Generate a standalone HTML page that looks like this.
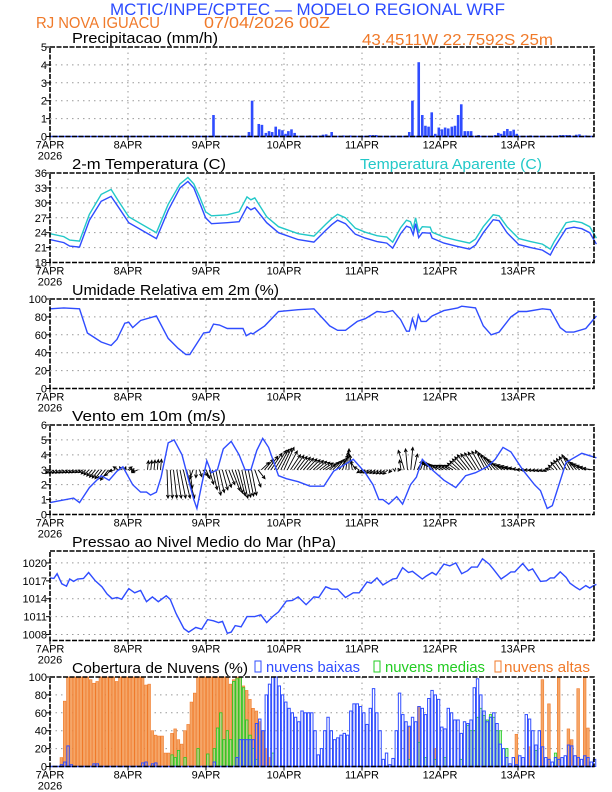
<!DOCTYPE html>
<html><head><meta charset="utf-8"><style>
html,body{margin:0;padding:0;background:#fff;}
svg{display:block;font-family:"Liberation Sans",sans-serif;}
</style></head><body>
<svg id="s" width="612" height="792" viewBox="0 0 612 792" xmlns="http://www.w3.org/2000/svg">
<text x="110" y="15" font-size="17" fill="#2b4bff" textLength="395" lengthAdjust="spacingAndGlyphs">MCTIC/INPE/CPTEC — MODELO REGIONAL WRF</text>
<text x="36" y="28" font-size="16" fill="#f07a2a" textLength="124" lengthAdjust="spacingAndGlyphs">RJ NOVA IGUACU</text>
<text x="204" y="28" font-size="16" fill="#f07a2a" textLength="126" lengthAdjust="spacingAndGlyphs">07/04/2026 00Z</text>
<text x="362" y="45" font-size="16" fill="#f07a2a" textLength="191" lengthAdjust="spacingAndGlyphs">43.4511W 22.7592S 25m</text>
</svg>
<script>
const S=document.getElementById('s');const NS='http://www.w3.org/2000/svg';
function el(t,a,txt){const e=document.createElementNS(NS,t);for(const k in a)e.setAttribute(k,a[k]);if(txt!==undefined)e.textContent=txt;S.appendChild(e);return e;}
const L=50,R=594,H=89.5,TOPS=[47,173,299,425,551,677];
const X=h=>L+h*3.25;
const BLUE='#2f4cff',CY='#22c8c8',OR='#f07a2a',GR='#22cc22';
function zx(z){return (z-130)/8.25;}
function panel(i,min,max,ticks,title,tw,labFn){
 const t=TOPS[i],b=t+H;const Y=v=>b-(v-min)/(max-min)*H;
 for(const v of ticks){ if(v>min&&v<max) el('line',{x1:L,x2:R,y1:Y(v),y2:Y(v),stroke:'#999','stroke-dasharray':'1.5,4','stroke-width':1});
  el('line',{x1:L-4,x2:L,y1:Y(v),y2:Y(v),stroke:'#000'});
  el('text',{x:L-3,y:Y(v)+4,'text-anchor':'end','font-size':11},labFn?labFn(v):v);}
 const days=['7APR','8APR','9APR','10APR','11APR','12APR','13APR'];
 for(let d=0;d<7;d++){const x=X(d*24);
  if(d>0) el('line',{x1:x,x2:x,y1:t,y2:b,stroke:'#999','stroke-dasharray':'1.5,4'});
  el('line',{x1:x,x2:x,y1:b,y2:b+4,stroke:'#000'});
  el('text',{x:x,y:b+12,'text-anchor':'middle','font-size':11},days[d]);}
 el('text',{x:L,y:b+23,'text-anchor':'middle','font-size':11},'2026');
 el('text',{x:72,y:t-4,'font-size':15,textLength:tw,lengthAdjust:'spacingAndGlyphs'},title);
 return Y;}
function frame(i){const t=TOPS[i];el('rect',{x:L,y:t,width:R-L,height:H,fill:'none',stroke:'#000','stroke-width':1.6,'stroke-dasharray':'5,1.5'});}
function line(Y,pts,col,w){el('polyline',{points:pts.map(p=>X(zx(p[0])).toFixed(1)+','+Y(p[1]).toFixed(1)).join(' '),fill:'none',stroke:col,'stroke-width':w||1.4});}
// Precip
let Y=panel(0,0,5,[0,1,2,3,4,5],'Precipitacao (mm/h)',146);
const pr=[[545,1.2],[635,.25],[643,2],[660,.7],[668,.65],[678,.2],[686,.3],[694,.25],[703,.55],[712,.4],[720,.35],[728,.15],[735,.3],[743,.4],[751,.2],[790,.06],[815,.05],[823,.1],[831,.12],[845,.25],[875,.06],[892,.06],[942,.08],[950,.08],[958,.08],[1035,.05],[1042,.25],[1050,2],[1066,4.15],[1075,1.2],[1083,.6],[1091,.55],[1099,1.35],[1108,.15],[1117,.5],[1125,.4],[1133,.5],[1141,.45],[1150,.55],[1158,.6],[1166,1.2],[1174,1.8],[1183,.3],[1191,.3],[1199,.3],[1218,.08],[1260,.08],[1268,.2],[1275,.15],[1283,.3],[1291,.42],[1299,.3],[1307,.38],[1315,.15],[1350,.06],[1425,.08],[1433,.08],[1441,.08],[1449,.08],[1466,.1],[1474,.12],[1490,.06]];
for(const p of pr){const x=X(zx(p[0]));el('rect',{x:x-1.3,y:Y(p[1]),width:2.6,height:Y(0)-Y(p[1]),fill:BLUE});}
el('line',{x1:L,x2:R,y1:Y(0),y2:Y(0),stroke:BLUE,'stroke-width':1.5});
frame(0);
// Temp
Y=panel(1,18,36,[18,21,24,27,30,33,36],'2-m Temperatura (C)',154);
el('text',{x:360,y:169,'font-size':15,fill:CY,textLength:182,lengthAdjust:'spacingAndGlyphs'},'Temperatura Aparente (C)');
const tb=[[130,22.6],[165,22],[180,21.3],[205,21.1],[230,26.5],[260,30.3],[285,31.3],[305,29],[330,26],[400,22.8],[430,28.5],[460,33],[480,34.3],[495,33],[510,30],[525,27],[540,25.8],[580,26],[610,26.2],[630,29.2],[640,28.6],[650,29],[680,26],[710,24],[760,22.6],[800,22.1],[830,24.5],[845,25.6],[860,26.5],[880,25.8],[905,23.7],[930,22.9],[960,22.2],[985,21.9],[1000,20.9],[1020,23.8],[1035,25.3],[1045,25],[1052,23.6],[1058,25.8],[1066,23],[1075,24],[1095,23.9],[1100,22.9],[1130,21.9],[1160,21.3],[1195,20.7],[1210,21.5],[1230,24],[1255,26.6],[1270,26.4],[1290,24],[1320,21.6],[1350,21],[1380,20.5],[1400,19.5],[1410,21],[1440,24.8],[1460,25.1],[1480,24.8],[1500,24],[1517,21.7]];
const ta=tb.map(p=>{let o=1.2;if(p[0]>=240&&p[0]<=300)o=1.4;if(p[0]>=455&&p[0]<=500)o=0.8;if(p[0]>=540&&p[0]<=660)o=1.6+(p[0]>600?0.4:0);if(p[0]>=1240&&p[0]<=1280)o=1;return [p[0],p[1]+o];});
line(Y,ta,CY,1.4);line(Y,tb,BLUE,1.4);frame(1);
// RH
Y=panel(2,0,100,[0,20,40,60,80,100],'Umidade Relativa em 2m (%)',207);
line(Y,[[130,89],[165,90],[205,89],[225,62],[260,52],[285,48],[300,55],[320,73],[330,74],[340,68],[360,76],[400,81],[430,56],[455,45],[475,38],[485,38],[495,45],[520,62],[535,63],[545,72],[560,71],[580,67],[620,67],[628,59],[640,62],[645,61],[675,70],[710,86],[760,88],[800,89],[840,70],[860,65],[880,65],[910,75],[930,78],[960,86],[980,85],[1000,87],[1020,77],[1035,64],[1042,64],[1050,78],[1058,67],[1065,82],[1072,75],[1085,75],[1100,81],[1130,87],[1165,90],[1175,92],[1210,90],[1230,70],[1250,60],[1270,63],[1300,80],[1320,86],[1340,86],[1380,89],[1400,88],[1425,68],[1440,63],[1460,63],[1490,67],[1517,81]],BLUE);frame(2);
// Wind
Y=panel(3,0,6,[0,1,2,3,4,5,6],'Vento em 10m (m/s)',154);
const wk=[[0,2.75,-4],[10,2.8,-4],[14,2.5,-6],[18,2.3,-8],[21,3.2,-5],[24,3.2,4],[27,2.8,-6],[30,3.6,1],[34,3.7,1],[35,3,0],[36,1.1,1],[42,1.1,8],[44,2.4,-3],[47,2.6,5],[48,2.4,4],[51,1.3,5],[55,2.0,6],[56,1.6,8],[59,1.1,6],[62,1.3,5],[64,2.4,7],[65,3.5,8],[69,4.3,12],[72,4.5,10],[74,4.0,10],[85,3.4,10],[89,3.8,8],[92,4.4,0],[94,3.6,-5],[96,2.8,-5],[104,2.7,-5],[107,3.0,3],[109,4.3,-6],[111,4.5,2],[113,3.6,5],[120,3.3,-8],[124,3.3,-8],[129,4.0,-12],[134,4.3,-10],[140,3.4,-12],[146,3.0,-8],[153,2.9,-4],[156,3.5,-6],[160,4.0,-8],[163,3.5,-10],[167,3.1,-10]];
function interp(h,k){for(let i=0;i<wk.length-1;i++){if(h>=wk[i][0]&&h<=wk[i+1][0]){const f=(h-wk[i][0])/(wk[i+1][0]-wk[i][0]||1);return wk[i][k]+f*(wk[i+1][k]-wk[i][k]);}}return wk[wk.length-1][k];}
let g='';
for(let h=0;h<=167;h++){const x0=X(h),y0=Y(3);let ty=interp(h,1),dx=interp(h,2);
 if(h>=28&&h<=29)continue;
 const x1=x0+dx,y1=Y(ty);const a=Math.atan2(y1-y0,x1-x0),len=Math.hypot(x1-x0,y1-y0);
 if(len<1)continue;const hl=3.5;
 g+=`M${x0.toFixed(1)},${y0.toFixed(1)}L${x1.toFixed(1)},${y1.toFixed(1)}M${(x1-hl*Math.cos(a-0.45)).toFixed(1)},${(y1-hl*Math.sin(a-0.45)).toFixed(1)}L${x1.toFixed(1)},${y1.toFixed(1)}L${(x1-hl*Math.cos(a+0.45)).toFixed(1)},${(y1-hl*Math.sin(a+0.45)).toFixed(1)}`;}
el('path',{d:g,stroke:'#000','stroke-width':0.9,fill:'none'});
line(Y,[[130,.8],[150,.9],[190,1.1],[205,.8],[230,1.8],[260,2.6],[280,2.3],[300,2.9],[315,3.2],[340,2],[360,1.5],[375,1.5],[385,1.3],[400,1.5],[412,2.5],[430,4.8],[445,5],[465,4],[485,2],[495,1],[503,.4],[515,2],[528,3.6],[540,2.8],[555,3],[570,4.4],[590,4.9],[610,4],[625,3],[640,3],[655,4.3],[670,5.1],[685,4.5],[710,2.6],[730,2.4],[760,2.2],[790,1.9],[825,1.9],[850,2.9],[875,3.3],[900,3.7],[930,2.8],[950,2],[965,1],[975,1],[990,.7],[1010,1.2],[1025,.7],[1045,2],[1060,2.5],[1075,3.7],[1100,3],[1130,2.3],[1160,1.8],[1185,2.6],[1210,2.8],[1240,3.2],[1260,3.7],[1280,4.5],[1300,4.2],[1330,3],[1360,2],[1375,1.6],[1392,.4],[1405,.6],[1440,3.5],[1480,4.1],[1517,3.8]],BLUE);frame(3);
// Pressure
Y=panel(4,1007,1022,[1008,1011,1014,1017,1020],'Pressao ao Nivel Medio do Mar (hPa)',264);
line(Y,[[130,1017.5],[140,1017.4],[148,1018.2],[160,1016.5],[172,1016.1],[180,1017.3],[190,1016.9],[200,1017.3],[215,1017.4],[228,1018.4],[245,1017],[262,1016],[275,1014.8],[288,1014],[300,1014.2],[312,1013.9],[330,1015.7],[345,1015],[360,1015.4],[375,1013.5],[390,1014.3],[405,1013.5],[425,1014.5],[435,1013.9],[450,1011.5],[470,1009],[482,1008.4],[500,1009.2],[515,1008.9],[530,1010.5],[545,1010.3],[558,1010],[568,1010.2],[580,1008.2],[590,1008.4],[600,1009.5],[615,1009.3],[630,1011],[650,1011],[665,1011.3],[680,1010],[695,1011],[710,1011.8],[730,1013.6],[745,1013.7],[760,1014.3],[780,1013],[800,1014.3],[812,1014.2],[830,1016],[845,1015.6],[860,1015.6],[880,1014.2],[900,1015],[915,1015],[935,1016.8],[945,1016.6],[960,1017.5],[975,1016.3],[1000,1017.3],[1010,1017.4],[1025,1019.2],[1040,1018.4],[1050,1018.6],[1075,1017.3],[1085,1017.8],[1100,1018.4],[1110,1018],[1130,1019.8],[1145,1019.5],[1160,1020],[1175,1018.2],[1190,1018.7],[1200,1019.3],[1215,1019.3],[1228,1020.7],[1245,1019.8],[1255,1019],[1275,1017.3],[1290,1018],[1300,1018.5],[1310,1018.5],[1330,1019.9],[1345,1018.7],[1355,1019],[1375,1016.9],[1390,1017],[1400,1017.5],[1410,1017.5],[1425,1018.5],[1440,1017.6],[1450,1016.6],[1465,1015.9],[1475,1015.5],[1490,1016.2],[1500,1015.8],[1510,1016.2],[1517,1016.4]],BLUE);frame(4);
// Clouds
Y=panel(5,0,100,[0,20,40,60,80,100],'Cobertura de Nuvens (%)',176);
el('rect',{x:255,y:661,width:6,height:11,fill:'none',stroke:BLUE,'stroke-width':1});
el('text',{x:266,y:672,'font-size':15,fill:BLUE,textLength:94,lengthAdjust:'spacingAndGlyphs'},'nuvens baixas');
el('rect',{x:374,y:661,width:6,height:11,fill:'none',stroke:GR,'stroke-width':1});
el('text',{x:385,y:672,'font-size':15,fill:GR,textLength:100,lengthAdjust:'spacingAndGlyphs'},'nuvens medias');
el('rect',{x:495,y:661,width:6,height:11,fill:'none',stroke:OR,'stroke-width':1});
el('text',{x:504,y:672,'font-size':15,fill:OR,textLength:86,lengthAdjust:'spacingAndGlyphs'},'nuvens altas');
const alt=new Array(168).fill(0);
const altK={3:10,4:73,12:97,13:93,14:95,20:95,28:100,29:91,30:92,31:40,32:35,33:34,34:34,35:15,36:15,37:37,38:42,39:30,40:25,41:40,42:47,43:72,44:82,54:100,55:92,56:97,57:100,58:100,59:90,60:85,61:75,62:65,63:62,64:50,65:40,66:20,67:10,110:44,113:67,118:20,151:97,153:70,156:100,159:42,160:30,162:87,164:100,165:43,143:36,147:22};
for(let h=5;h<=28;h++)alt[h]=100;
for(let h=45;h<=54;h++)alt[h]=100;
for(const k in altK)alt[k]=altK[k];
const med=new Array(168).fill(0);
Object.entries({37:13,38:10,39:18,41:10,45:20,48:14,50:20,51:43,52:60,53:30,54:40,55:30,56:95,57:98,58:100,59:88,60:52,61:35,62:20,63:8,68:15,110:8,113:27,115:10,118:8,121:10,126:8,128:46,129:40,130:40,131:55,132:65,133:57,134:52,135:58,136:55,137:40,138:40,140:20,149:18,155:15}).forEach(([k,v])=>med[k]=v);
const low=new Array(168).fill(0);
Object.entries({3:2,4:5,5:23,6:2,13:3,14:3,28:4,29:5,31:3,32:4,50:5,57:10,58:30,59:30,60:30,61:30,62:30,63:48,64:53,65:40,66:80,67:92,68:100,69:100,70:90,71:80,72:72,73:65,74:60,75:55,76:50,77:62,78:60,79:60,80:60,81:40,82:13,83:20,84:40,85:55,86:40,87:30,88:32,89:35,90:37,91:35,92:62,93:70,94:70,95:67,96:60,97:47,98:65,99:87,100:60,101:40,102:8,103:15,104:2,105:9,106:40,107:82,108:58,109:50,110:45,111:55,112:50,113:67,114:65,115:58,116:76,117:85,118:80,119:75,120:44,121:42,122:65,123:60,124:52,125:52,126:37,127:50,128:48,129:52,130:88,131:98,132:80,133:62,134:50,135:55,136:60,137:48,138:25,139:20,140:10,141:3,142:10,143:2,144:12,145:10,146:58,147:53,148:40,149:24,150:40,151:22,152:10,153:8,154:5,155:10,156:8,157:10,158:12,159:24,160:23,161:12,162:10,163:8,164:12,165:10,166:5,167:8}).forEach(([k,v])=>low[k]=v);
for(let h=0;h<168;h++){const x=X(h)+0.3;if(alt[h]>0)el('rect',{x:x,y:Y(alt[h]),width:2.7,height:Y(0)-Y(alt[h]),fill:'#f5a668',stroke:OR,'stroke-width':0.6});}
for(let h=0;h<168;h++){const x=X(h)+0.3;if(med[h]>0)el('rect',{x:x+.3,y:Y(med[h]),width:2.4,height:Y(0)-Y(med[h]),fill:'#9be89b','fill-opacity':0.6,stroke:GR,'stroke-width':0.8});}
for(let h=0;h<168;h++){const x=X(h)+0.3;if(low[h]>0)el('rect',{x:x+.3,y:Y(low[h]),width:2.4,height:Y(0)-Y(low[h]),fill:'none',stroke:BLUE,'stroke-width':1});}
el('line',{x1:L,x2:R,y1:Y(0),y2:Y(0),stroke:BLUE,'stroke-width':1.5});
frame(5);
</script>
</body></html>
